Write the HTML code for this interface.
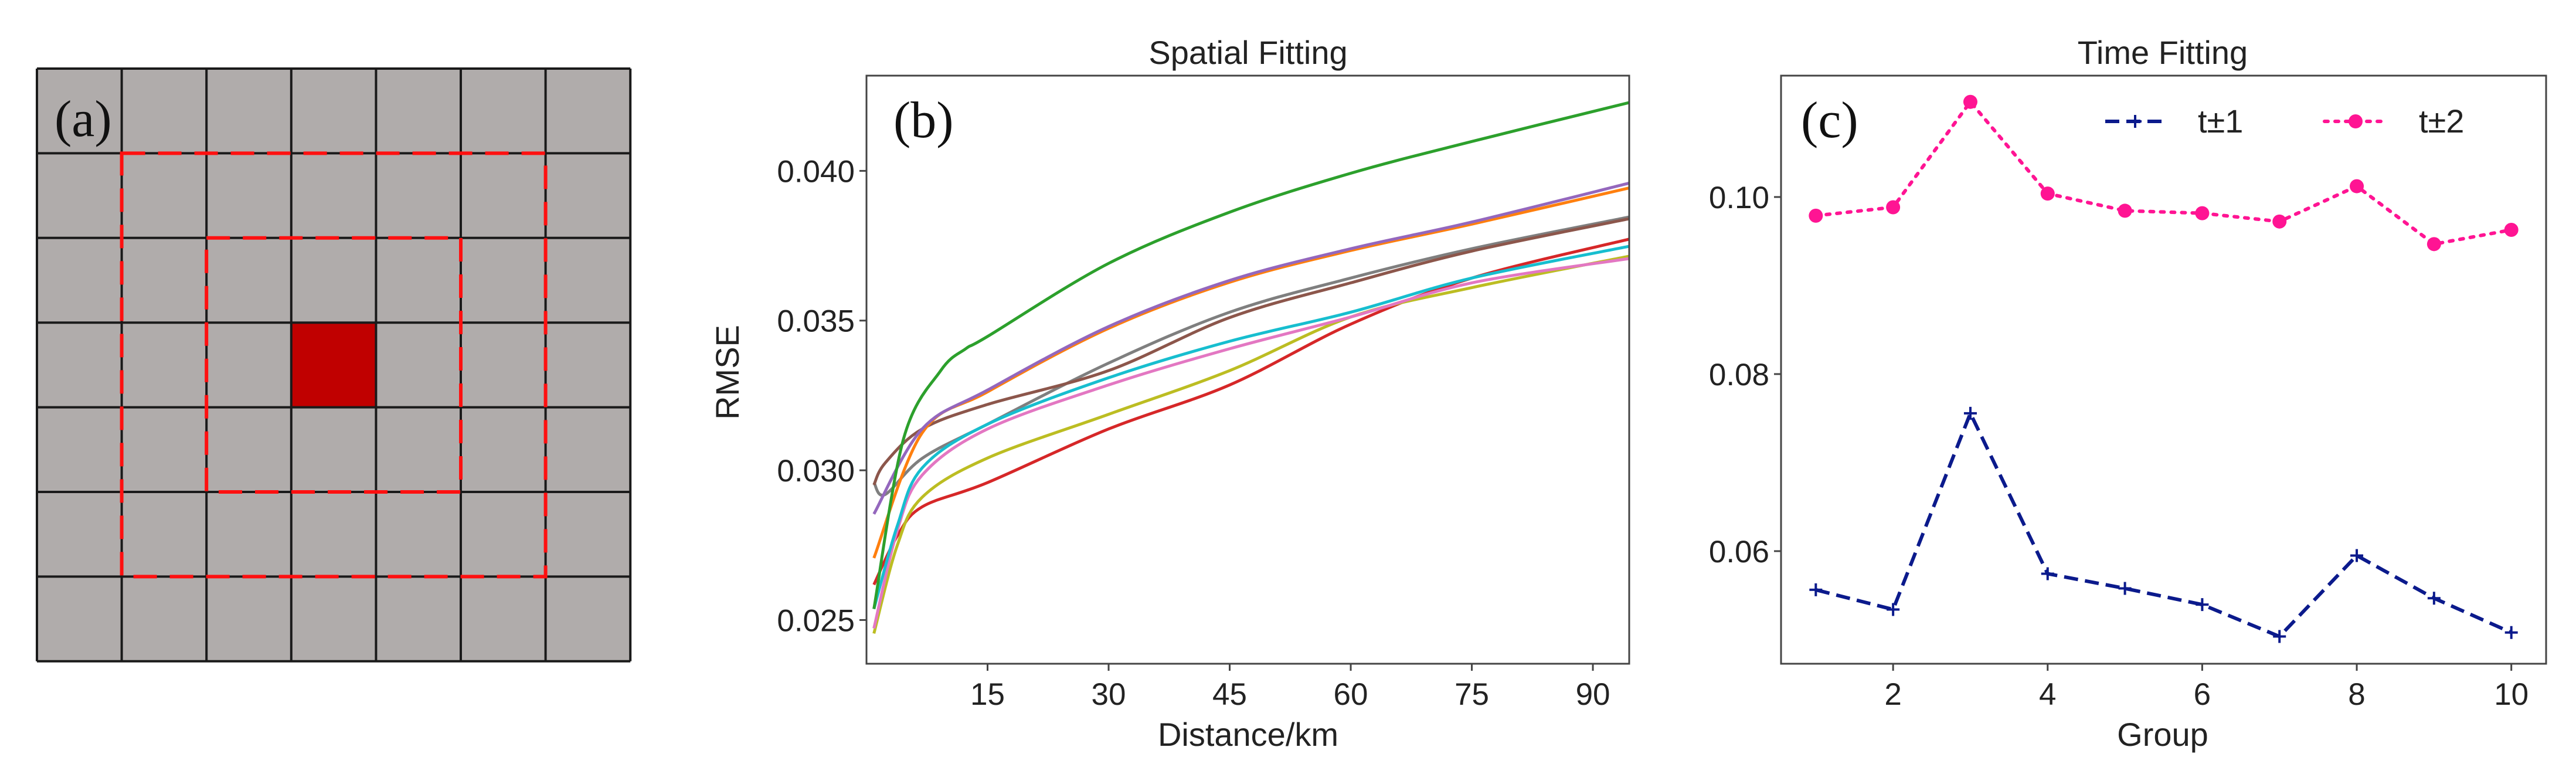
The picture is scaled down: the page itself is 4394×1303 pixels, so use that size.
<!DOCTYPE html>
<html><head><meta charset="utf-8"><style>
html,body{margin:0;padding:0;background:#fff;}
svg{display:block;}
text{font-family:"Liberation Sans","DejaVu Sans",sans-serif;fill:#222;}
.lbl{font-family:"Liberation Serif",serif;fill:#111;}
</style></head><body>
<svg id="fig" width="4394" height="1303" viewBox="0 0 4394 1303" xmlns="http://www.w3.org/2000/svg">
<g id="pa"></g>
<g id="pb"></g>
<g id="pc"></g>
</svg>
<script>
// ---- Panel b data ----
const spatialX = {
  green:  [0.92, 4.6, 9.2, 12.3, 15, 30, 45, 60, 75, 94.5],
  purple: [0.92, 6.9, 15, 30, 45, 60, 75, 94.5],
  orange: [0.92, 6.9, 15, 30, 45, 60, 75, 94.5],
  brown:  [0.92, 2.3, 6.9, 15, 30, 45, 60, 75, 94.5],
  gray:   [0.92, 2.3, 6.9, 15, 30, 45, 60, 75, 94.5],
  cyan:   [0.92, 3.8, 6.9, 15, 30, 45, 60, 75, 94.5],
  pink:   [0.92, 3.8, 6.9, 15, 30, 45, 60, 75, 94.5],
  olive:  [0.92, 3.8, 6.9, 15, 30, 45, 60, 75, 94.5],
  red:    [0.92, 3.8, 6.9, 15, 30, 45, 60, 75, 94.5]
};
const greenRmse  = [0.02537, 0.03106, 0.03333, 0.03406, 0.03447, 0.03691, 0.03862, 0.03992, 0.04098, 0.04228];
const purpleRmse = [0.02854, 0.03138, 0.03268, 0.0348, 0.03634, 0.0374, 0.03829, 0.03959];
const orangeRmse = [0.02707, 0.03125, 0.03262, 0.03474, 0.03628, 0.03734, 0.03822, 0.03943];
const brownRmse  = [0.02951, 0.03024, 0.03138, 0.0322, 0.03333, 0.0351, 0.03626, 0.03732, 0.0384];
const grayRmse   = [0.0296, 0.02919, 0.0304, 0.03154, 0.03358, 0.03528, 0.03642, 0.0374, 0.03846];
const cyanRmse   = [0.02537, 0.02813, 0.03008, 0.03154, 0.03309, 0.03431, 0.03528, 0.03642, 0.03748];
const pinkRmse   = [0.02472, 0.02797, 0.02984, 0.03138, 0.03285, 0.03406, 0.03512, 0.03626, 0.03707];
const oliveRmse  = [0.02455, 0.02748, 0.0291, 0.03041, 0.03187, 0.03333, 0.03512, 0.0361, 0.03715];
const redRmse    = [0.02618, 0.0278, 0.02878, 0.02959, 0.03138, 0.03285, 0.03488, 0.03642, 0.03772];
const spatialXTicks = [15, 30, 45, 60, 75, 90];
const spatialYTicks = [0.025, 0.030, 0.035, 0.040];
const spatialYTickLabels = ["0.025", "0.030", "0.035", "0.040"];
// ---- Panel c data ----
const groups = [1,2,3,4,5,6,7,8,9,10];
const t1Values = [0.05563, 0.05341, 0.07557, 0.05745, 0.05579, 0.05396, 0.05036, 0.0595, 0.05468, 0.05081];
const t2Values = [0.09789, 0.09884, 0.11075, 0.10039, 0.09845, 0.09817, 0.09723, 0.10122, 0.09468, 0.09629];
const timeXTicks = [2,4,6,8,10];
const timeYTicks = [0.06, 0.08, 0.10];
const timeYTickLabels = ["0.06", "0.08", "0.10"];

const NS = "http://www.w3.org/2000/svg";
function mk(parent, tag, attrs){const e=document.createElementNS(NS,tag);for(const k in attrs)e.setAttribute(k,attrs[k]);parent.appendChild(e);return e;}
function smoothPath(pts){
  let d='M'+pts[0][0]+','+pts[0][1];
  for(let i=0;i<pts.length-1;i++){
    const p0=pts[Math.max(0,i-1)],p1=pts[i],p2=pts[i+1],p3=pts[Math.min(pts.length-1,i+2)];
    const c1x=p1[0]+(p2[0]-p0[0])/6,c1y=p1[1]+(p2[1]-p0[1])/6;
    const c2x=p2[0]-(p3[0]-p1[0])/6,c2y=p2[1]-(p3[1]-p1[1])/6;
    d+=` C${c1x},${c1y} ${c2x},${c2y} ${p2[0]},${p2[1]}`;
  }
  return d;
}

// ---- Panel a ----
(function(){
  const g=document.getElementById('pa');
  const L=63,T=117,C=144.6,R=144.4,N=7;
  const bg=mk(g,'rect',{x:L,y:T,width:C*N,height:R*N,fill:'#b0acab'});
  
  
  const c=mk(g,'rect',{x:L+3*C,y:T+3*R,width:C,height:R,fill:'#c00000'});
  
  
  for(let i=0;i<=N;i++){
    const v=mk(g,'line',{x1:L+i*C,x2:L+i*C,y1:T,y2:T+R*N,stroke:'#1a1a1a','stroke-width':4});
    
    
    const h=mk(g,'line',{y1:T+i*R,y2:T+i*R,x1:L,x2:L+C*N,stroke:'#1a1a1a','stroke-width':4});
    
    
  }
  const o=mk(g,'rect',{x:L+C,y:T+R,width:5*C,height:5*R,fill:'none',stroke:'#ff1010','stroke-width':6,'stroke-dasharray':'40 22'});
  
  
  const n=mk(g,'rect',{x:L+2*C,y:T+2*R,width:3*C,height:3*R,fill:'none',stroke:'#ff1010','stroke-width':6,'stroke-dasharray':'40 22'});
  
  
  const t=mk(g,'text',{x:93,y:232,'font-size':88,class:'lbl'});t.textContent='(a)';
  
  
})();

// ---- Panel b ----
(function(){
  const g=document.getElementById('pb');
  const L=1478,R=2779,T=129,B=1132,x0=0,x1=94.5,y0=0.02354,y1=0.04318;
  const X=v=>L+(v-x0)/(x1-x0)*(R-L), Y=v=>B-(v-y0)/(y1-y0)*(B-T);
  const series=[['gray','#7f7f7f',grayRmse],['brown','#8c564b',brownRmse],['red','#d62728',redRmse],['olive','#bcbd22',oliveRmse],['pink','#e377c2',pinkRmse],['cyan','#17becf',cyanRmse],['orange','#ff7f0e',orangeRmse],['purple','#9467bd',purpleRmse],['green','#2ca02c',greenRmse]];
  series.forEach(([k,col,vals])=>{
    const xs=spatialX[k];
    const pts=vals.map((v,i)=>[X(xs[i]),Y(v)]);
    const p=mk(g,'path',{d:smoothPath(pts),fill:'none',stroke:col,'stroke-width':5,'stroke-linejoin':'round'});
    
    
  });
  const f=mk(g,'rect',{x:L,y:T,width:R-L,height:B-T,fill:'none',stroke:'#444','stroke-width':3});
  
  
  spatialXTicks.forEach(v=>{
    const l=mk(g,'line',{x1:X(v),x2:X(v),y1:B,y2:B+12,stroke:'#444','stroke-width':3});
    
    
    const t=mk(g,'text',{x:X(v),y:B+70,'font-size':53,'text-anchor':'middle'});t.textContent=v;
    
    
  });
  spatialYTicks.forEach((v,i)=>{
    const l=mk(g,'line',{x1:L-12,x2:L,y1:Y(v),y2:Y(v),stroke:'#444','stroke-width':3});
    
    
    const t=mk(g,'text',{x:L-20,y:Y(v)+19,'font-size':53,'text-anchor':'end'});t.textContent=spatialYTickLabels[i];
    
    
  });
  const tt=mk(g,'text',{x:2129,y:109,'font-size':56,'text-anchor':'middle'});tt.textContent='Spatial Fitting';
  
  
  const xl=mk(g,'text',{x:2129,y:1272,'font-size':56,'text-anchor':'middle'});xl.textContent='Distance/km';
  
  
  const yl=mk(g,'text',{x:0,y:0,'font-size':56,'text-anchor':'middle',transform:'translate(1260,635) rotate(-90)'});yl.textContent='RMSE';
  
  
  const pl=mk(g,'text',{x:1524,y:234,'font-size':88,class:'lbl'});pl.textContent='(b)';
  
  
})();

// ---- Panel c ----
(function(){
  const g=document.getElementById('pc');
  const L=3038,R=4343,T=129,B=1132,x0=0.55,x1=10.45,y0=0.04728,y1=0.11371;
  const X=v=>L+(v-x0)/(x1-x0)*(R-L), Y=v=>B-(v-y0)/(y1-y0)*(B-T);
  const l1=mk(g,'polyline',{points:groups.map((v,i)=>X(v)+','+Y(t1Values[i])).join(' '),fill:'none',stroke:'#0b1a8c','stroke-width':6,'stroke-dasharray':'24 12'});
  
  
  groups.forEach((v,i)=>{
    const m=mk(g,'path',{d:`M${X(v)-11},${Y(t1Values[i])}h22M${X(v)},${Y(t1Values[i])-11}v22`,stroke:'#0b1a8c','stroke-width':4});
    
    
  });
  const l2=mk(g,'polyline',{points:groups.map((v,i)=>X(v)+','+Y(t2Values[i])).join(' '),fill:'none',stroke:'#ff1493','stroke-width':6,'stroke-dasharray':'6 12','stroke-linecap':'round'});
  
  
  groups.forEach((v,i)=>{
    const m=mk(g,'circle',{cx:X(v),cy:Y(t2Values[i]),r:12,fill:'#ff1493'});
    
    
  });
  const f=mk(g,'rect',{x:L,y:T,width:R-L,height:B-T,fill:'none',stroke:'#444','stroke-width':3});
  
  
  timeXTicks.forEach(v=>{
    const l=mk(g,'line',{x1:X(v),x2:X(v),y1:B,y2:B+12,stroke:'#444','stroke-width':3});
    
    
    const t=mk(g,'text',{x:X(v),y:B+70,'font-size':53,'text-anchor':'middle'});t.textContent=v;
    
    
  });
  timeYTicks.forEach((v,i)=>{
    const l=mk(g,'line',{x1:L-12,x2:L,y1:Y(v),y2:Y(v),stroke:'#444','stroke-width':3});
    
    
    const t=mk(g,'text',{x:L-20,y:Y(v)+19,'font-size':53,'text-anchor':'end'});t.textContent=timeYTickLabels[i];
    
    
  });
  const tt=mk(g,'text',{x:3689,y:109,'font-size':56,'text-anchor':'middle'});tt.textContent='Time Fitting';
  
  
  const xl=mk(g,'text',{x:3689,y:1272,'font-size':56,'text-anchor':'middle'});xl.textContent='Group';
  
  
  const pl=mk(g,'text',{x:3072,y:234,'font-size':88,class:'lbl'});pl.textContent='(c)';
  
  
  // legend
  const lg=mk(g,'g',{});
  
  
  const a=mk(lg,'line',{x1:3591,x2:3693,y1:207,y2:207,stroke:'#0b1a8c','stroke-width':6,'stroke-dasharray':'24 12'});
  
  
  mk(lg,'path',{d:'M3631,207h22M3642,196v22',stroke:'#0b1a8c','stroke-width':4});
  const at=mk(lg,'text',{x:3749,y:226,'font-size':56});at.textContent='t±1';
  
  
  const b=mk(lg,'line',{x1:3965,x2:4072,y1:207,y2:207,stroke:'#ff1493','stroke-width':6,'stroke-dasharray':'6 12','stroke-linecap':'round'});
  
  
  mk(lg,'circle',{cx:4018,cy:207,r:12,fill:'#ff1493'});
  const bt=mk(lg,'text',{x:4126,y:226,'font-size':56});bt.textContent='t±2';
  
  
})();
</script>
</body></html>
